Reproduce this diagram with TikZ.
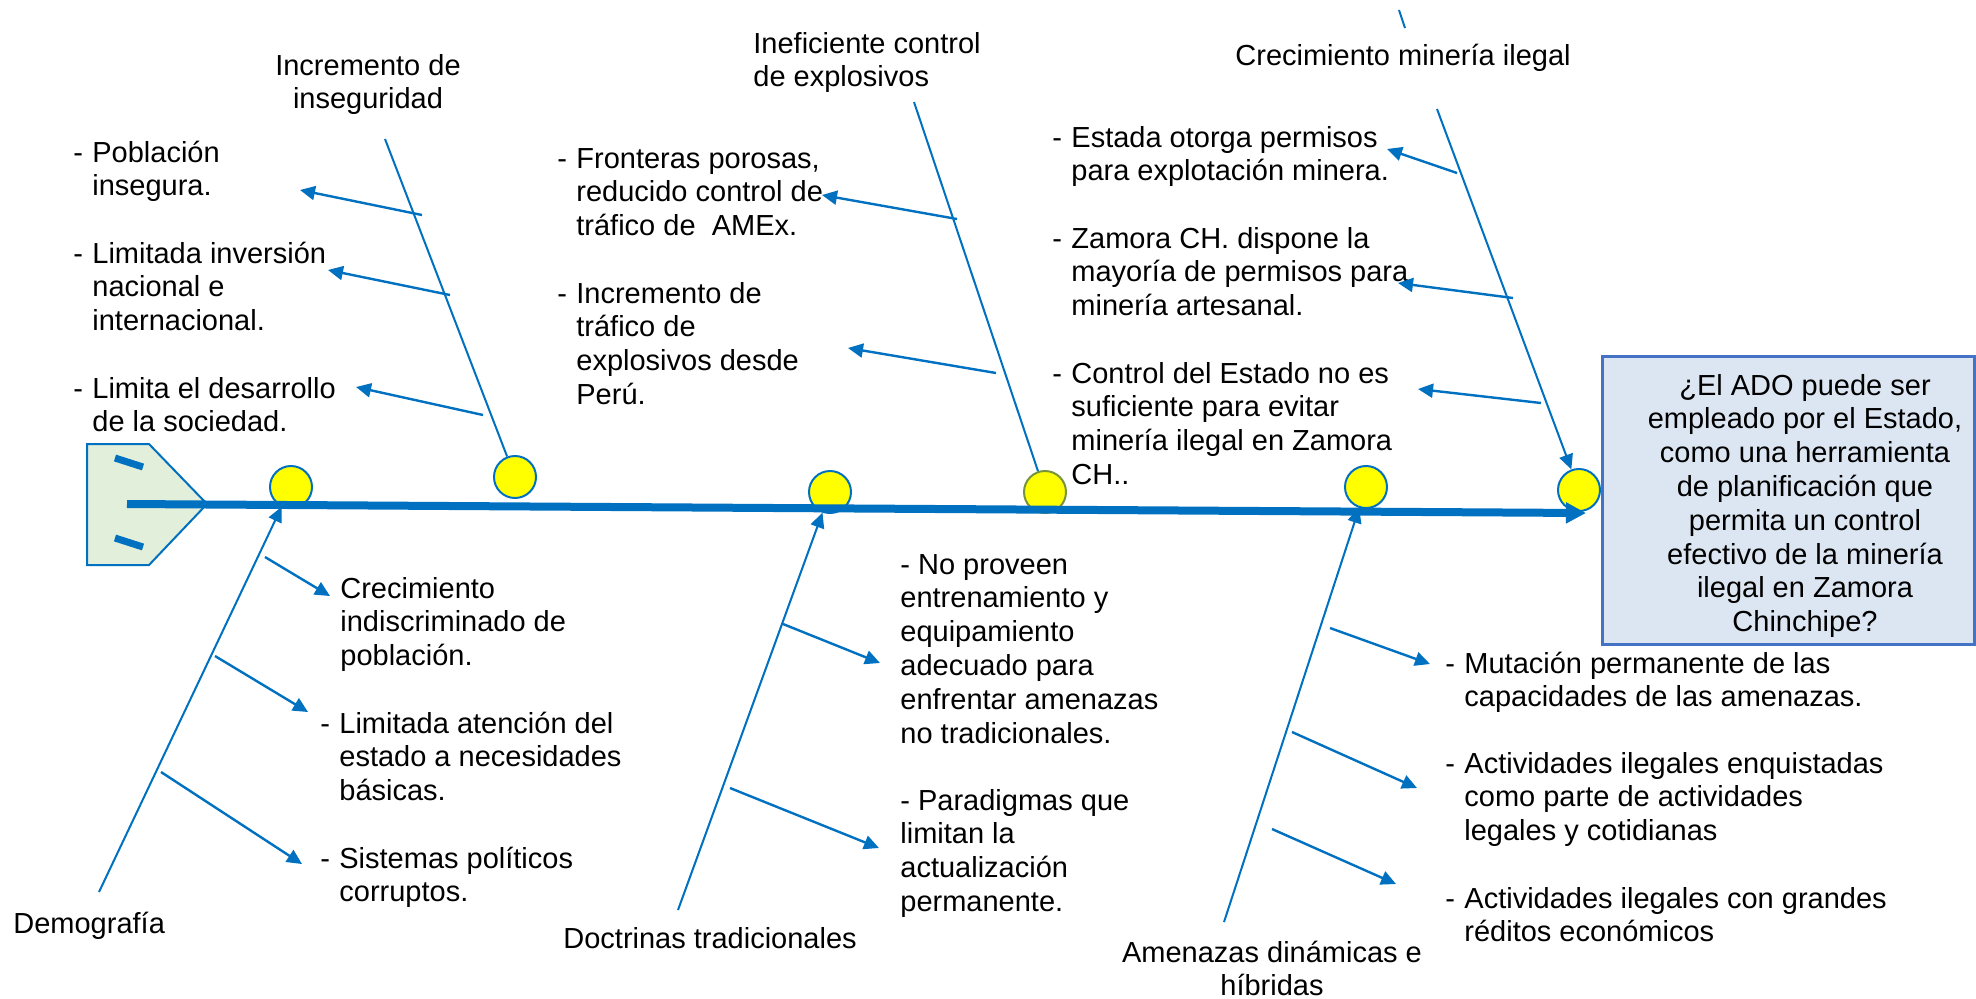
\documentclass[tikz,border=0pt]{standalone}
\usepackage{fontspec}
\setmainfont{Liberation Sans}
\usetikzlibrary{arrows.meta}
\definecolor{azul}{HTML}{0070C0}
\definecolor{amarillo}{HTML}{FFFF00}
\definecolor{verdeclaro}{HTML}{E2EFDA}
\definecolor{oliva}{HTML}{77933C}
\definecolor{celeste}{HTML}{DCE6F2}
\definecolor{bordecaja}{HTML}{4472C4}
\newcommand{\lineas}[1]{\begin{tabular}[t]{@{}l@{}}#1\end{tabular}}
\newcommand{\lineasc}[1]{\begin{tabular}[t]{@{}c@{}}#1\end{tabular}}
\newcommand{\guion}[1]{\makebox[9.5pt][l]{-}\lineas{#1}}

\begin{document}
\begin{tikzpicture}[x=0.5pt, y=-0.5pt,
  texto/.style={inner sep=0pt, anchor=base west, font=\fontsize{14.5}{16.9}\selectfont},
  titulo/.style={texto, anchor=base},
  bola/.style={circle, draw=azul, fill=amarillo, line width=1pt, minimum size=21pt, inner sep=0pt},
  hueso/.style={draw=azul, line width=1pt},
  punta/.style={-{Triangle[length=7.5pt, width=7pt]}},
  rama/.style={draw=azul, line width=1.2pt, punta},
  caja/.style={rectangle, draw=bordecaja, fill=celeste, line width=1.5pt, minimum width=186pt, minimum height=144pt}]
\useasboundingbox (0,0) rectangle (1976,998);

\draw[azul, fill=verdeclaro, line width=1pt] (87,444) -- (149,444) -- (207,504) -- (149,565) -- (87,565) -- cycle;
\draw[azul, line width=3.5pt] (115,458) -- (143,467);
\draw[azul, line width=3.5pt] (115,538) -- (143,547);

\node[bola] (c1) at (291,487) {};
\node[bola] (c2) at (515,477) {};
\node[bola] (c3) at (830,492) {};
\node[bola, draw=oliva] (c4) at (1045,492) {};
\node[bola] (c5) at (1366,487) {};
\node[bola] (c6) at (1579,490) {};

\coordinate (spL) at (127,504);
\coordinate (spR) at (1586,513);
\draw[azul, line width=4pt, -{Triangle[length=10pt, width=10pt]}] (spL) -- (spR);

\node[caja] (caja) at (1788,500) {};
\node[titulo] (pregunta) at (1805,395) {\lineasc{¿El ADO puede ser\\empleado por el Estado,\\como una herramienta\\de planificación que\\permita un control\\efectivo de la minería\\ilegal en Zamora\\Chinchipe?}};

\coordinate (t1) at (385,139);
\coordinate (t2) at (914,102);
\coordinate (t3) at (1437,109);
\coordinate (u1) at (99,892);
\coordinate (u2) at (678,910);
\coordinate (u3) at (1224,922);
\coordinate (m1) at (1399,10);
\coordinate (m2) at (1405,28);
\draw[hueso] (t1) -- (c2);
\draw[hueso] (t2) -- (c4);
\draw[hueso, punta] (t3) -- (c6);
\draw[hueso, punta] (u1) -- (c1);
\draw[hueso, punta] (u2) -- (c3);
\draw[hueso, punta] (u3) -- (c5);
\draw[hueso] (m1) -- (m2);

\node[titulo] (inseg) at (368,75) {\lineasc{Incremento de\\inseguridad}};
\node[texto] (pob) at (73,162) {\guion{Población\\insegura.}};
\node[texto] (inv) at (73,263) {\guion{Limitada inversión\\nacional e\\internacional.}};
\node[texto] (des) at (73,398) {\guion{Limita el desarrollo\\de la sociedad.}};
\node[texto] (explo) at (753,53) {\lineas{Ineficiente control\\de explosivos}};
\node[texto] (front) at (557,168) {\guion{Fronteras porosas,\\reducido control de\\tráfico de\ \ AMEx.}};
\node[texto] (traf) at (557,303) {\guion{Incremento de\\tráfico de\\explosivos desde\\Perú.}};
\node[texto] (mineria) at (1235,65) {Crecimiento minería ilegal};
\node[texto] (perm) at (1052,147) {\guion{Estada otorga permisos\\para explotación minera.}};
\node[texto] (zam) at (1052,248) {\guion{Zamora CH. dispone la\\mayoría de permisos para\\minería artesanal.}};
\node[texto] (ctrl) at (1052,383) {\guion{Control del Estado no es\\suficiente para evitar\\minería ilegal en Zamora\\CH..}};
\node[texto] (demo) at (13,933) {Demografía};
\node[texto] (crec) at (340,598) {\lineas{Crecimiento\\indiscriminado de\\población.}};
\node[texto] (aten) at (320,733) {\guion{Limitada atención del\\estado a necesidades\\básicas.}};
\node[texto] (sist) at (320,868) {\guion{Sistemas políticos\\corruptos.}};
\node[texto] (doct) at (563,948) {Doctrinas tradicionales};
\node[texto] (entr) at (900,574) {\lineas{- No proveen\\entrenamiento y\\equipamiento\\adecuado para\\enfrentar amenazas\\no tradicionales.}};
\node[texto] (parad) at (900,810) {\lineas{- Paradigmas que\\limitan la\\actualización\\permanente.}};
\node[titulo] (amen) at (1272,962) {\lineasc{Amenazas dinámicas e\\híbridas}};
\node[texto] (mut) at (1445,673) {\guion{Mutación permanente de las\\capacidades de las amenazas.}};
\node[texto] (enq) at (1445,773) {\guion{Actividades ilegales enquistadas\\como parte de actividades\\legales y cotidianas}};
\node[texto] (red) at (1445,908) {\guion{Actividades ilegales con grandes\\réditos económicos}};

\coordinate (a1s) at (422,215);
\coordinate (a1e) at (300,190);
\coordinate (a2s) at (450,295);
\coordinate (a2e) at (328,270);
\coordinate (a3s) at (483,415);
\coordinate (a3e) at (356,387);
\coordinate (b1s) at (957,219);
\coordinate (b1e) at (822,195);
\coordinate (b2s) at (996,373);
\coordinate (b2e) at (848,348);
\coordinate (c1s) at (1457,173);
\coordinate (c1e) at (1387,149);
\coordinate (c2s) at (1513,298);
\coordinate (c2e) at (1398,283);
\coordinate (c3s) at (1541,403);
\coordinate (c3e) at (1418,389);
\coordinate (d1s) at (265,557);
\coordinate (d1e) at (330,596);
\coordinate (d2s) at (215,656);
\coordinate (d2e) at (308,712);
\coordinate (d3s) at (161,772);
\coordinate (d3e) at (302,864);
\coordinate (e1s) at (783,624);
\coordinate (e1e) at (880,663);
\coordinate (e2s) at (730,788);
\coordinate (e2e) at (879,848);
\coordinate (f1s) at (1330,628);
\coordinate (f1e) at (1430,664);
\coordinate (f2s) at (1292,732);
\coordinate (f2e) at (1417,788);
\coordinate (f3s) at (1272,829);
\coordinate (f3e) at (1396,884);
\draw[rama] (a1s) -- (a1e);
\draw[rama] (a2s) -- (a2e);
\draw[rama] (a3s) -- (a3e);
\draw[rama] (b1s) -- (b1e);
\draw[rama] (b2s) -- (b2e);
\draw[rama] (c1s) -- (c1e);
\draw[rama] (c2s) -- (c2e);
\draw[rama] (c3s) -- (c3e);
\draw[rama] (d1s) -- (d1e);
\draw[rama] (d2s) -- (d2e);
\draw[rama] (d3s) -- (d3e);
\draw[rama] (e1s) -- (e1e);
\draw[rama] (e2s) -- (e2e);
\draw[rama] (f1s) -- (f1e);
\draw[rama] (f2s) -- (f2e);
\draw[rama] (f3s) -- (f3e);
\end{tikzpicture}
\end{document}
